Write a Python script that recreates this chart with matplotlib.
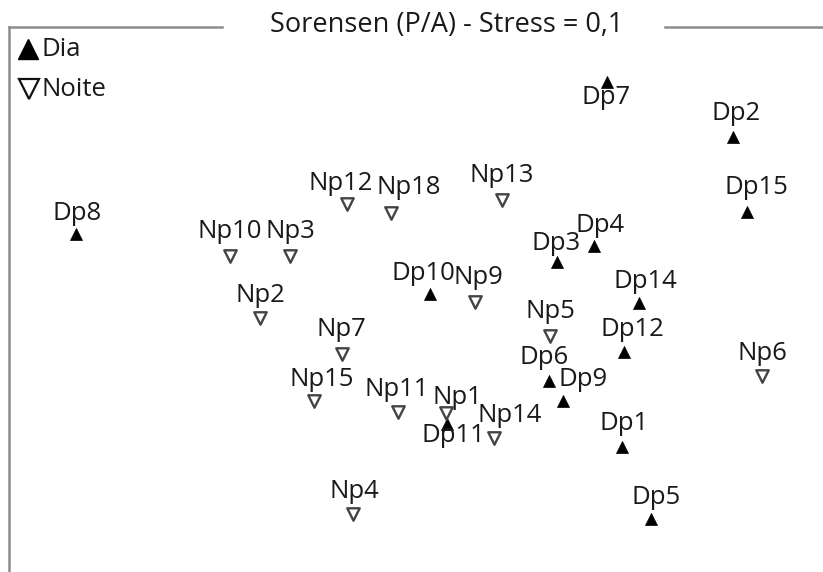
import matplotlib
matplotlib.use("Agg")
import matplotlib.pyplot as plt
from matplotlib.lines import Line2D

plt.rcParams['font.family'] = ['Open Sans', 'DejaVu Sans']

# NMDS scores (plot units)
dia_labels = ["Dp7", "Dp2", "Dp15", "Dp8", "Dp4", "Dp3", "Dp14", "Dp10", "Dp12",
              "Dp6", "Dp9", "Dp11", "Dp1", "Dp5"]
dia_x = [607, 733, 747, 76, 594, 557, 639, 430, 624, 549, 563, 447, 622, 651]
dia_y = [490, 435, 360, 338, 326, 310, 269, 278, 220, 191, 171, 148, 125, 53]

noite_labels = ["Np12", "Np18", "Np13", "Np10", "Np3", "Np2", "Np9", "Np5", "Np7",
                "Np6", "Np15", "Np11", "Np1", "Np14", "Np4"]
noite_x = [347, 391, 502, 230, 290, 260, 475, 550, 342, 762, 314, 398, 446, 494, 353]
noite_y = [368, 359, 372, 316, 316, 254, 270, 236, 218, 196, 171, 160, 159, 134, 58]

title = "Sorensen (P/A) - Stress = 0,1"

# label offsets (pixels, x right, y up)
offsets = {
    "Dp7": (-1, -15), "Dp2": (3, 24), "Dp15": (9, 24), "Dp8": (1, 21), "Dp4": (6, 20),
    "Dp3": (-1, 19), "Dp14": (6, 22), "Dp10": (-7, 21), "Dp12": (8, 22), "Dp6": (-5, 23),
    "Dp9": (20, 21), "Dp11": (6, -12), "Dp1": (2, 24), "Dp5": (5, 22),
    "Np12": (-6, 21), "Np18": (18, 25), "Np13": (0, 25), "Np10": (0, 25), "Np3": (0, 25),
    "Np2": (0, 23), "Np9": (3, 25), "Np5": (0, 24), "Np7": (-1, 24), "Np6": (0, 22),
    "Np15": (8, 21), "Np11": (-1, 23), "Np1": (11, 16), "Np14": (16, 22), "Np4": (1, 23),
}

W, H = 823, 572
fig = plt.figure(figsize=(W / 100, H / 100), dpi=100)
ax = fig.add_axes([8 / W, 0, (W - 8) / W, (H - 27) / H])
ax.set_xlim(8, 823)
ax.set_ylim(0, 545)
ax.set_xticks([])
ax.set_yticks([])
for s in ax.spines.values():
    s.set_visible(False)
ax.set_facecolor("none")

lab_fs = 18.5
txt_col = "#1a1a1a"
ax.scatter(dia_x, dia_y, marker="^", s=75, color="black", edgecolors="black",
           linewidths=0.5, zorder=3)
ax.scatter(noite_x, noite_y, marker="v", s=80, facecolors="white", edgecolors="#444444",
           linewidths=1.7, zorder=3)

for lab, x, y in list(zip(dia_labels, dia_x, dia_y)) + list(zip(noite_labels, noite_x, noite_y)):
    dx, dy = offsets[lab]
    ax.annotate(lab, (x, y), xytext=(dx, dy), textcoords="offset pixels",
                ha="center", va="center", fontsize=lab_fs, color=txt_col, zorder=4)

# frame: left line and broken top line
gray = "#8c8c8c"
fig.add_artist(Line2D([9 / W, 9 / W], [0, 1 - 27 / H], color=gray, lw=1.8))
fig.add_artist(Line2D([9 / W, 222 / W], [1 - 27 / H, 1 - 27 / H], color=gray, lw=1.8))
fig.add_artist(Line2D([665 / W, 1.0], [1 - 27 / H, 1 - 27 / H], color=gray, lw=1.8))

fig.text(447 / W, 1 - 25 / H, title, ha="center", va="center", fontsize=19.5, color=txt_col)

# legend
fig.add_artist(Line2D([28 / W], [1 - 49 / H], marker="^", markersize=15, color="black",
                      linestyle="none"))
fig.text(42 / W, 1 - 49 / H, "Dia", ha="left", va="center", fontsize=lab_fs, color=txt_col)
fig.add_artist(Line2D([29 / W], [1 - 89 / H], marker="v", markersize=14, markerfacecolor="white",
                      markeredgecolor="#111111", markeredgewidth=1.6, linestyle="none"))
fig.text(42 / W, 1 - 89 / H, "Noite", ha="left", va="center", fontsize=lab_fs, color=txt_col)

fig.savefig("out.png", dpi=100, facecolor="white")
